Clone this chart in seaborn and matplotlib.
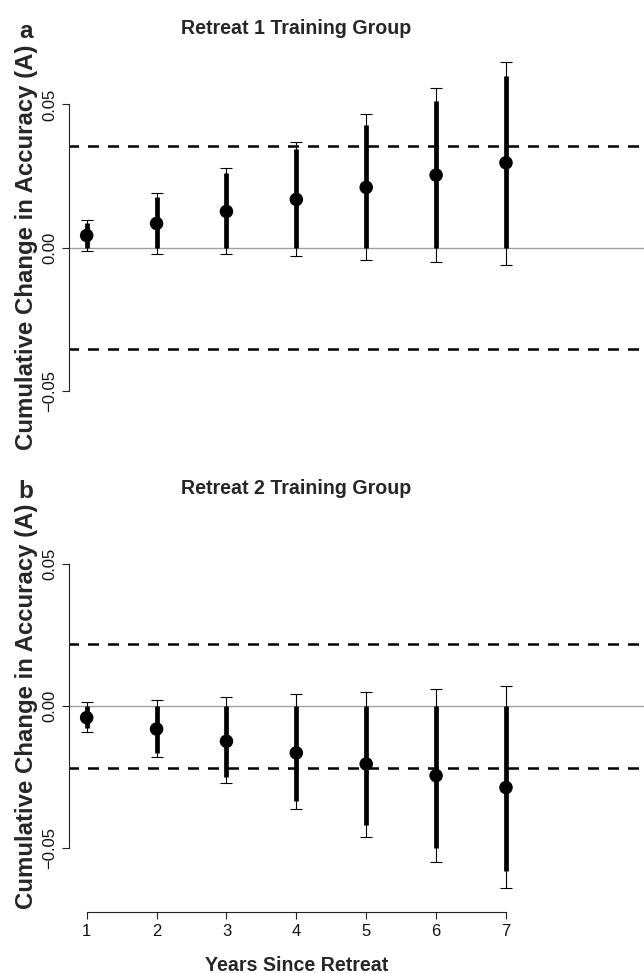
import numpy as np
import pandas as pd
import matplotlib
matplotlib.use("Agg")
import matplotlib.pyplot as plt
import seaborn as sns

# datos
years = [1, 2, 3, 4, 5, 6, 7]

a_mean = [0.0042, 0.0084, 0.0126, 0.0168, 0.0210, 0.0253, 0.0296]
a_lo = [-0.0013, -0.0021, -0.0021, -0.0031, -0.0042, -0.0052, -0.0062]
a_hi = [0.0095, 0.0189, 0.0278, 0.0367, 0.0466, 0.0557, 0.0648]
a_thick = [0.0084, 0.0175, 0.0259, 0.0344, 0.0428, 0.0513, 0.0599]
a_band = 0.0355

b_mean = [-0.0041, -0.0081, -0.0124, -0.0165, -0.0204, -0.0245, -0.0287]
b_lo = [-0.0093, -0.0179, -0.0270, -0.0361, -0.0460, -0.0550, -0.0640]
b_hi = [0.0013, 0.0020, 0.0030, 0.0041, 0.0051, 0.0060, 0.0070]
b_thick = [-0.0078, -0.0167, -0.0249, -0.0336, -0.0418, -0.0500, -0.0582]
b_band = 0.0217

titles = ["Retreat 1 Training Group", "Retreat 2 Training Group"]
letters = ["a", "b"]
ylab = "Cumulative Change in Accuracy (A)"
xlab = "Years Since Retreat"

sns.set_style("ticks")
plt.rcParams["font.family"] = ["Liberation Sans", "DejaVu Sans"]

W, H = 644, 973
fig = plt.figure(figsize=(W / 100, H / 100), dpi=100)

# posiciones en pixeles (top, bottom) de cada panel
paneles = [(40, 455), (500, 912)]
x0 = 0.747
x1 = 8.975
x_centro = (4 - x0) / (x1 - x0)

datos = [
    (a_mean, a_lo, a_hi, a_thick, a_band),
    (b_mean, b_lo, b_hi, b_thick, b_band),
]

for i, (top, bot) in enumerate(paneles):
    mean, lo, hi, thick, band = datos[i]
    ax = fig.add_axes([69 / W, 1 - bot / H, 1 - 69 / W, (bot - top) / H])
    ax.set_facecolor("white")
    df = pd.DataFrame({"year": years, "mean": mean, "lo": lo, "hi": hi, "thick": thick})

    ax.axhline(0, color="#a0a0a0", lw=1.0, zorder=1)
    for yv in (band, -band):
        ax.axhline(yv, color="black", lw=1.8, ls=(0.6, (4.4, 3.6)), zorder=1)

    ax.errorbar(df["year"], df["mean"],
                yerr=[df["mean"] - df["lo"], df["hi"] - df["mean"]],
                fmt="none", ecolor="black", elinewidth=0.8, capsize=4, capthick=0.8, zorder=2)
    ax.vlines(df["year"], 0, df["thick"], color="black", lw=3.4, zorder=3)
    sns.scatterplot(data=df, x="year", y="mean", color="black", s=95,
                    edgecolor="none", zorder=4, ax=ax, legend=False)

    ax.set_xlim(x0, x1)
    ax.set_ylim(-0.0725, 0.0725)
    ax.set_yticks([-0.05, 0.0, 0.05])
    ax.set_yticklabels(["\u22120.05", "0.00", "0.05"], rotation=90, va="center")
    ax.tick_params(axis="y", length=5, width=0.8, color="#222222", pad=3.5,
                   labelsize=12, labelcolor="#111111")

    for s in ["top", "right"]:
        ax.spines[s].set_visible(False)
    ax.spines["left"].set_bounds(-0.05, 0.05)
    ax.spines["left"].set_linewidth(0.8)
    ax.spines["left"].set_color("#222222")

    if i == 0:
        ax.spines["bottom"].set_visible(False)
        ax.set_xticks([])
        ax.set_xlabel("")
    else:
        ax.set_xticks(years)
        ax.spines["bottom"].set_bounds(1, 7)
        ax.spines["bottom"].set_linewidth(0.8)
        ax.spines["bottom"].set_color("#222222")
        ax.tick_params(axis="x", length=5, width=0.8, color="#222222", pad=3.5,
                       labelsize=12, labelcolor="#111111")
        ax.set_xlabel(xlab, fontsize=14.1, fontweight="bold")
        ax.xaxis.set_label_coords(x_centro, -0.106)

    ax.set_ylabel(ylab, fontsize=17.3, fontweight="bold")
    ax.yaxis.set_label_coords(-0.054, 0.5)

    fig.text(296 / W, 1 - (top - 6) / H, titles[i], ha="center", va="baseline",
             fontsize=14.1, fontweight="bold")
    fig.text(26 / W, 1 - (top - 2) / H, letters[i], ha="center", va="baseline",
             fontsize=17.5, fontweight="bold")

fig.savefig("out.png", dpi=100)
